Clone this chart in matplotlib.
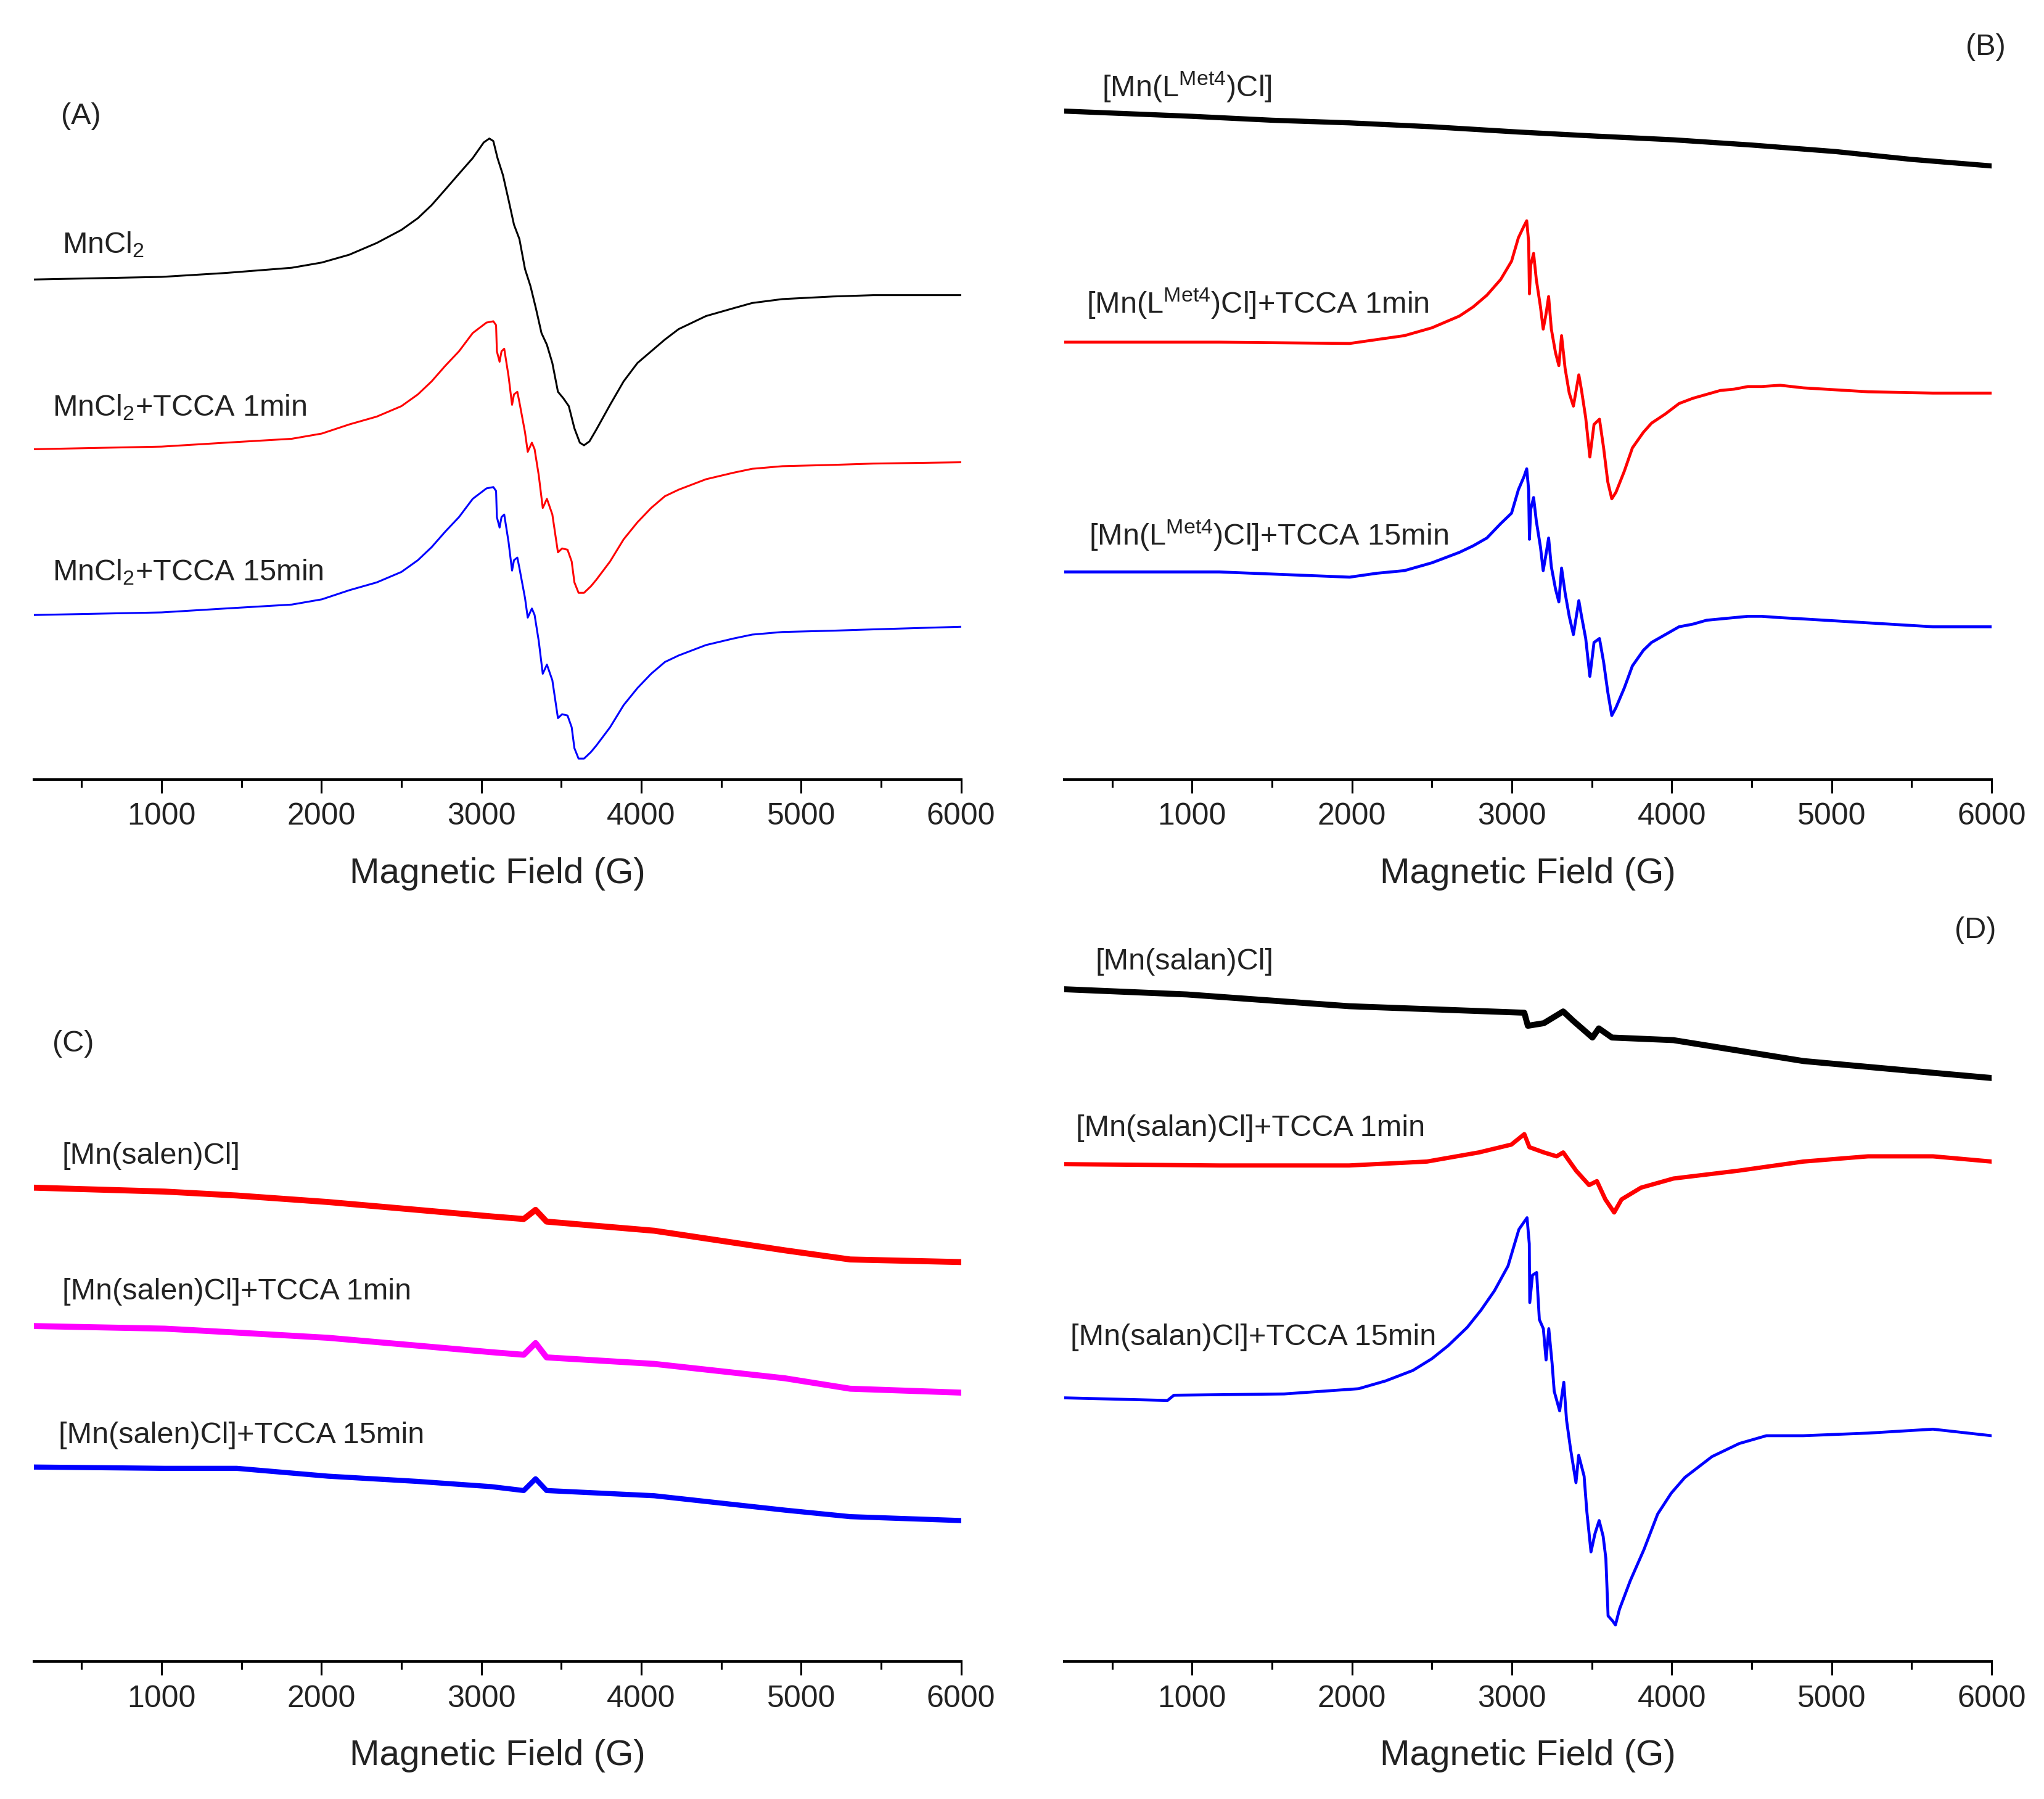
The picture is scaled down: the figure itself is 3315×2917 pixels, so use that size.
import matplotlib
matplotlib.use("Agg")
import matplotlib.pyplot as plt
from matplotlib.ticker import MultipleLocator

# ---- data (field in G, intensity in arbitrary units) ----
# (A) MnCl2
a_black_field = [200, 600, 1000, 1400, 1814, 2002, 2088, 2174, 2346, 2500, 2603, 2689,
                 2775, 2860, 2946, 3015, 3050, 3075, 3101, 3135, 3170, 3204, 3238, 3273,
                 3307, 3341, 3376, 3410, 3444, 3479, 3513, 3547, 3582, 3616, 3642, 3676,
                 3719, 3805, 3890, 3976, 4062, 4148, 4234, 4405, 4577, 4694, 4883, 5200,
                 5451, 6000]
a_mncl2 = [383, 384, 385, 388, 392, 396, 399, 402, 411, 421, 430, 440,
           452, 464, 476, 488, 491, 489, 476, 463, 444, 425, 414, 391,
           378, 361, 342, 333, 319, 297, 292, 286, 269, 258, 256, 259,
           268, 287, 305, 319, 328, 337, 345, 355, 361, 365, 368, 370,
           371, 371]
a_field = [200, 600, 1000, 1400, 1814, 2002, 2174, 2346, 2500, 2603, 2689, 2775, 2860,
           2946, 3032, 3075, 3092, 3097, 3114, 3126, 3143, 3170, 3192, 3204, 3225, 3238,
           3273, 3290, 3316, 3333, 3359, 3384, 3410, 3444, 3479, 3505, 3539, 3565, 3582,
           3608, 3642, 3685, 3719, 3805, 3890, 3976, 4062, 4148, 4234, 4405, 4577, 4694,
           4883, 5200, 5451, 6000]
a_tcca_1 = [253, 254, 255, 258, 261, 265, 272, 278, 286, 295, 305, 317, 328,
            342, 350, 351, 348, 328, 320, 328, 330, 309, 287, 295, 297, 289,
            266, 251, 258, 253, 233, 208, 215, 203, 174, 177, 176, 167, 151,
            143, 143, 148, 153, 167, 184, 197, 208, 217, 222, 230, 235, 238,
            240, 241, 242, 243]
a_tcca_15 = [126, 127, 128, 131, 134, 138, 145, 151, 159, 168, 178, 190, 201,
             215, 223, 224, 221, 201, 193, 201, 203, 182, 160, 168, 170, 162,
             139, 124, 131, 126, 106, 81, 88, 76, 47, 50, 49, 40, 24,
             16, 16, 21, 26, 40, 57, 70, 81, 90, 95, 103, 108, 111,
             113, 114, 115, 117]

# (B) [Mn(L^Met4)Cl]
b_black_field = [200, 600, 1000, 1500, 1982, 2500, 3037, 3500, 4011, 4500, 5025, 5500, 6000]
b_met4 = [512, 510, 508, 505, 503, 500, 496, 493, 490, 486, 481, 475, 470]
b_field = [200, 1170, 1985, 2156, 2328, 2500, 2672, 2758, 2844, 2930, 2998, 3041, 3076,
           3093, 3105, 3110, 3118, 3136, 3153, 3179, 3196, 3213, 3230, 3247, 3273, 3294,
           3311, 3333, 3359, 3385, 3402, 3419, 3436, 3462, 3488, 3514, 3548, 3574, 3600,
           3625, 3651, 3703, 3754, 3823, 3874, 3960, 4046, 4132, 4218, 4304, 4390, 4476,
           4562, 4678, 4823, 5228, 5634, 6000]
b_tcca_1 = [335, 335, 334, 337, 340, 346, 355, 362, 371, 383, 397, 415, 424,
            428, 412, 372, 394, 403, 383, 362, 345, 356, 370, 345, 327, 317,
            340, 315, 296, 286, 298, 310, 298, 277, 247, 272, 276, 254, 228,
            215, 220, 236, 254, 266, 273, 280, 288, 292, 295, 298, 299, 301,
            301, 302, 300, 297, 296, 296]
b_tcca_15 = [159, 159, 155, 158, 160, 166, 174, 179, 185, 196, 204, 222, 232,
             238, 222, 184, 207, 216, 198, 178, 160, 172, 185, 163, 146, 136,
             162, 143, 125, 111, 124, 137, 125, 108, 79, 105, 108, 90, 67,
             49, 55, 70, 87, 99, 105, 111, 117, 119, 122, 123, 124, 125,
             125, 124, 123, 120, 117, 117]

# (C) [Mn(salen)Cl]
c_field = [200, 1020, 1470, 2041, 2600, 3061, 3265, 3339, 3408, 4082, 4898, 5307, 6000]
c_salen = [363, 360, 357, 352, 346, 341, 339, 346, 337, 330, 315, 308, 306]
c_tcca_1 = [257, 255, 252, 248, 242, 237, 235, 244, 233, 228, 217, 209, 206]
c_tcca_15 = [149, 148, 148, 142, 138, 134, 131, 140, 131, 127, 116, 111, 108]

# (D) [Mn(salan)Cl]
d_black_field = [200, 967, 1982, 3078, 3100, 3200, 3321, 3382, 3504, 3544, 3626, 4011,
                 4823, 5634, 6000]
d_salan = [515, 511, 502, 497, 487, 489, 498, 491, 478, 485, 478, 476, 460, 451, 447]
d_red_field = [200, 1170, 1982, 2469, 2794, 2997, 3078, 3110, 3200, 3280, 3321, 3402,
               3483, 3532, 3585, 3640, 3686, 3808, 4011, 4417, 4823, 5228, 5634, 6000]
d_tcca_1 = [381, 380, 380, 383, 390, 396, 404, 394, 390, 387, 390, 376,
            365, 368, 354, 344, 354, 363, 370, 376, 383, 387, 387, 383]
d_blue_field = [200, 846, 886, 1576, 2041, 2211, 2381, 2500, 2602, 2721, 2806, 2891,
                2976, 3044, 3095, 3109, 3112, 3129, 3155, 3172, 3197, 3214, 3231, 3252,
                3265, 3299, 3325, 3342, 3367, 3401, 3418, 3452, 3469, 3495, 3520, 3546,
                3571, 3588, 3602, 3631, 3648, 3673, 3741, 3827, 3912, 3997, 4082, 4167,
                4252, 4422, 4592, 4823, 5228, 5634, 6000]
d_tcca_15 = [202, 200, 204, 205, 209, 215, 223, 232, 242, 256, 269, 284,
             303, 331, 340, 320, 275, 296, 298, 262, 255, 231, 255, 228,
             207, 192, 214, 185, 163, 137, 158, 142, 115, 84, 98, 108,
             96, 79, 35, 31, 28, 40, 62, 86, 113, 129, 141, 149,
             157, 167, 173, 173, 175, 178, 173]

plt.rcParams.update({
    "font.family": "Liberation Sans",
    "mathtext.fontset": "custom",
    "mathtext.rm": "Liberation Sans",
    "mathtext.it": "Liberation Sans",
})

W, H = 1568, 1379          # reference layout grid
fig = plt.figure(figsize=(33.16, 29.17), dpi=100)

ax_w, ax_h = 0.4535, 0.4042
boxes = {
    "A": [0.0165, 0.5667, ax_w, ax_h],
    "B": [0.5205, 0.5667, ax_w, ax_h],
    "C": [0.0165, 0.0764, ax_w, ax_h],
    "D": [0.5205, 0.0764, ax_w, ax_h],
}

CLEAN = 2.2
NOISY = 6.0   # noisy traces read as a thick band

curves = {
    "A": [(a_black_field, a_mncl2, "black", CLEAN),
          (a_field, a_tcca_1, "#ff0000", CLEAN),
          (a_field, a_tcca_15, "#0000ff", CLEAN)],
    "B": [(b_black_field, b_met4, "black", NOISY),
          (b_field, b_tcca_1, "#ff0000", 3.4),
          (b_field, b_tcca_15, "#0000ff", 3.4)],
    "C": [(c_field, c_salen, "#ff0000", NOISY + 1),
          (c_field, c_tcca_1, "#ff00ff", NOISY + 1),
          (c_field, c_tcca_15, "#0000ff", NOISY)],
    "D": [(d_black_field, d_salan, "black", NOISY + 1),
          (d_red_field, d_tcca_1, "#ff0000", NOISY - 1),
          (d_blue_field, d_tcca_15, "#0000ff", 3.4)],
}

for key, box in boxes.items():
    ax = fig.add_axes(box)
    for xs, ys, col, lw in curves[key]:
        ax.plot(xs, ys, color=col, lw=lw, solid_joinstyle="round")
    ax.set_xlim(200, 6000)
    ax.set_ylim(0, 557)
    for s in ("left", "right", "top"):
        ax.spines[s].set_visible(False)
    ax.spines["bottom"].set_linewidth(2.9)
    ax.set_yticks([])
    ax.xaxis.set_major_locator(MultipleLocator(1000))
    ax.xaxis.set_minor_locator(MultipleLocator(500))
    ax.tick_params(axis="x", which="major", direction="out", length=16, width=2.2,
                   pad=11, labelsize=36, labelcolor="#222222")
    ax.tick_params(axis="x", which="minor", direction="out", length=9.5, width=2.2)
    ax.set_xlabel("Magnetic Field (G)", fontsize=42, color="#222222")
    ax.xaxis.label.set_va("baseline")
    ax.xaxis.set_label_coords(0.5, -0.1425)


def label(x, y, s, ha="left"):
    fig.text(x / W, 1 - y / H, s, ha=ha, va="baseline", fontsize=35, color="#222222")


met = r"[Mn(L$^{\mathrm{Met4}}$)Cl]"
label(47, 95, "(A)")
label(47.6, 194, r"MnCl$_2$")
label(40, 318.5, r"MnCl$_2$+TCCA 1min")
label(40, 445, r"MnCl$_2$+TCCA 15min")

label(1538, 42, "(B)", ha="right")
label(845, 74, met)
label(833, 240, met + "+TCCA 1min")
label(835, 418, met + "+TCCA 15min")

label(40, 806, "(C)")
label(47.6, 892, "[Mn(salen)Cl]")
label(47.6, 996, "[Mn(salen)Cl]+TCCA 1min")
label(45, 1106, "[Mn(salen)Cl]+TCCA 15min")

label(1531, 719, "(D)", ha="right")
label(840, 743, "[Mn(salan)Cl]")
label(825, 871, "[Mn(salan)Cl]+TCCA 1min")
label(821, 1031, "[Mn(salan)Cl]+TCCA 15min")

fig.savefig("out.png", dpi=100)
